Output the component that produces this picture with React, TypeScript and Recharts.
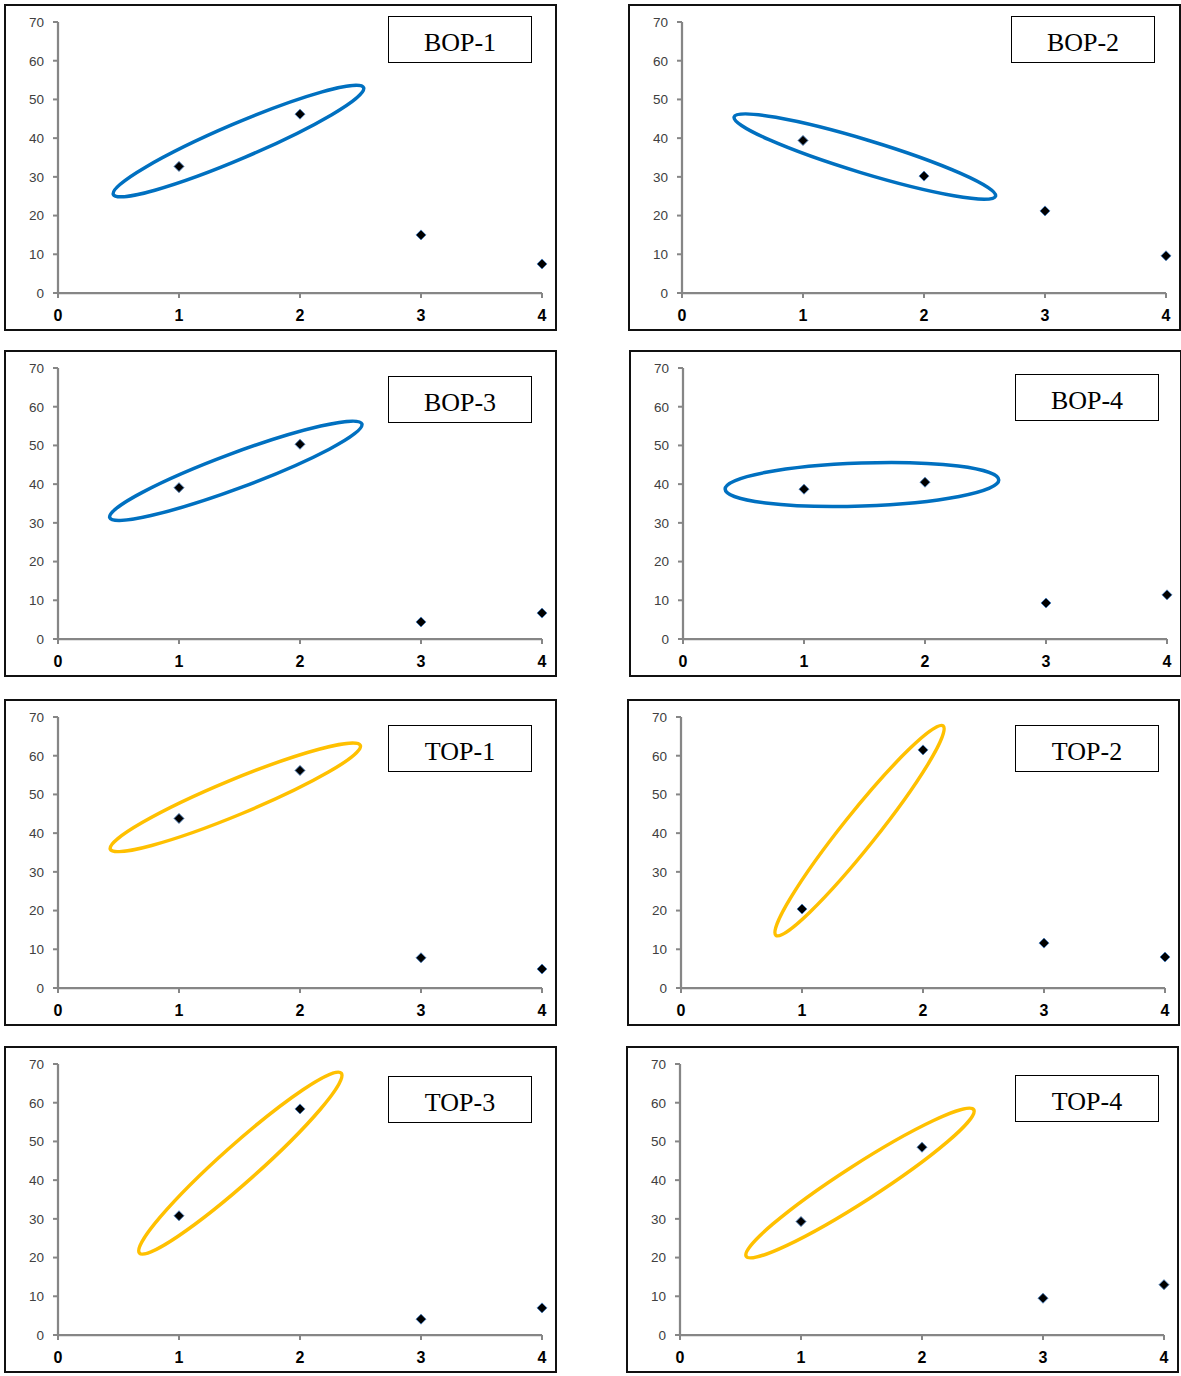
import React from "react";
import { ScatterChart, Scatter, XAxis, YAxis, ReferenceLine } from "recharts";

// x positions shared by every panel
const xValues = [1, 2, 3, 4];

// y values
const bop1 = [32.7, 46.2, 15.0, 7.5];
const bop2 = [39.4, 30.2, 21.2, 9.6];
const bop3 = [39.1, 50.3, 4.4, 6.7];
const bop4 = [38.7, 40.5, 9.3, 11.4];
const top1 = [43.8, 56.2, 7.8, 4.9];
const top2 = [20.4, 61.5, 11.6, 8.0];
const top3 = [30.8, 58.4, 4.1, 7.0];
const top4 = [29.3, 48.5, 9.5, 13.0];

const titles = ["BOP-1", "BOP-2", "BOP-3", "BOP-4", "TOP-1", "TOP-2", "TOP-3", "TOP-4"];
const seriesList = [bop1, bop2, bop3, bop4, top1, top2, top3, top4];

const xTicks = [0, 1, 2, 3, 4];
const yTicks = [0, 10, 20, 30, 40, 50, 60, 70];

// ellipse tips in data units: [x1, y1, x2, y2]
const loops = [
  [0.446, 25.3, 2.537, 53.2],
  [0.419, 45.6, 2.603, 24.9],
  [0.416, 31.2, 2.523, 55.7],
  [0.336, 38.7, 2.622, 41.1],
  [0.421, 35.7, 2.51, 62.8],
  [0.777, 13.3, 2.174, 68.0],
  [0.664, 20.9, 2.35, 67.9],
  [0.537, 20.1, 2.438, 58.4],
];

const BLUE = "#0070c0";
const YELLOW = "#ffc000";
const AXIS = "#868686";

// panel placement on the page (px)
const layout = [
  { left: 4, top: 4, boxLeft: 384, boxTop: 12, minor: 17.5, color: BLUE },
  { left: 628, top: 4, boxLeft: 383, boxTop: 12, minor: 16.5, color: BLUE },
  { left: 4, top: 350, boxLeft: 384, boxTop: 26, minor: 17.5, color: BLUE },
  { left: 629, top: 350, boxLeft: 386, boxTop: 24, minor: 21.5, color: BLUE },
  { left: 4, top: 699, boxLeft: 384, boxTop: 26, minor: 17.5, color: YELLOW },
  { left: 627, top: 699, boxLeft: 388, boxTop: 26, minor: 17, color: YELLOW },
  { left: 4, top: 1046, boxLeft: 384, boxTop: 30, minor: 18.5, color: YELLOW },
  { left: 626, top: 1046, boxLeft: 389, boxTop: 29, minor: 18, color: YELLOW },
];

const W = 553;
const H = 327;

function Diamond(props: any) {
  const { cx, cy } = props;
  const r = 5;
  return (
    <path
      d={`M${cx},${cy - r}L${cx + r},${cy}L${cx},${cy + r}L${cx - r},${cy}Z`}
      fill="#000"
      stroke="#4a7ebb"
      strokeWidth={0.9}
    />
  );
}

function Loop(props: any) {
  const { x1, y1, x2, y2, color, minor } = props;
  const cx = (x1 + x2) / 2;
  const cy = (y1 + y2) / 2;
  const rx = Math.hypot(x2 - x1, y2 - y1) / 2 - 1.5;
  const ang = (Math.atan2(y2 - y1, x2 - x1) * 180) / Math.PI;
  return (
    <ellipse
      cx={cx}
      cy={cy}
      rx={rx}
      ry={minor}
      transform={`rotate(${ang} ${cx} ${cy})`}
      fill="none"
      stroke={color}
      strokeWidth={3.5}
    />
  );
}

function Panel({ i }: { i: number }) {
  const pos = layout[i];
  const data = xValues.map((x, k) => ({ x, y: seriesList[i][k] }));
  const [lx1, ly1, lx2, ly2] = loops[i];
  return (
    <div
      style={{
        position: "absolute",
        left: pos.left,
        top: pos.top,
        width: W,
        height: H,
        border: "2px solid #111",
        boxSizing: "border-box",
        background: "#fff",
      }}
    >
      <div style={{ position: "absolute", left: -2, top: -2 }}>
        <ScatterChart width={W} height={H} margin={{ top: 18, right: 15, bottom: 0, left: 0 }}>
          <XAxis
            type="number"
            dataKey="x"
            domain={[0, 4]}
            ticks={xTicks}
            height={38}
            tickSize={5}
            tickMargin={12}
            axisLine={{ stroke: AXIS, strokeWidth: 2.25 }}
            tickLine={{ stroke: AXIS, strokeWidth: 2 }}
            tick={{ fill: "#000", fontSize: 16, fontWeight: 700, fontFamily: "'Liberation Sans', Arial" }}
          />
          <YAxis
            type="number"
            dataKey="y"
            domain={[0, 70]}
            ticks={yTicks}
            width={54}
            tickSize={5}
            tickMargin={9}
            axisLine={{ stroke: AXIS, strokeWidth: 2.25 }}
            tickLine={{ stroke: AXIS, strokeWidth: 2 }}
            tick={{ fill: "#404040", fontSize: 13.5, fontFamily: "'Liberation Sans', Arial" }}
          />
          <ReferenceLine
            segment={[
              { x: lx1, y: ly1 },
              { x: lx2, y: ly2 },
            ]}
            ifOverflow="visible"
            shape={(p: any) => <Loop {...p} color={pos.color} minor={pos.minor} />}
          />
          <Scatter data={data} shape={Diamond} isAnimationActive={false} />
        </ScatterChart>
      </div>
      <div
        style={{
          position: "absolute",
          left: pos.boxLeft - 2,
          top: pos.boxTop - 2,
          width: 144,
          height: 47,
          border: "1px solid #000",
          boxSizing: "border-box",
          display: "flex",
          alignItems: "center",
          justifyContent: "center",
          paddingTop: 7,
          fontFamily: "'Liberation Serif', 'Times New Roman', serif",
          fontSize: 26,
          lineHeight: 1,
          color: "#000",
          background: "#fff",
        }}
      >
        {titles[i]}
      </div>
    </div>
  );
}

export default function App() {
  return (
    <div style={{ position: "absolute", left: 0, top: 0, width: 1181, height: 1376, background: "#fff" }}>
      {titles.map((t, i) => (
        <Panel key={t} i={i} />
      ))}
    </div>
  );
}
